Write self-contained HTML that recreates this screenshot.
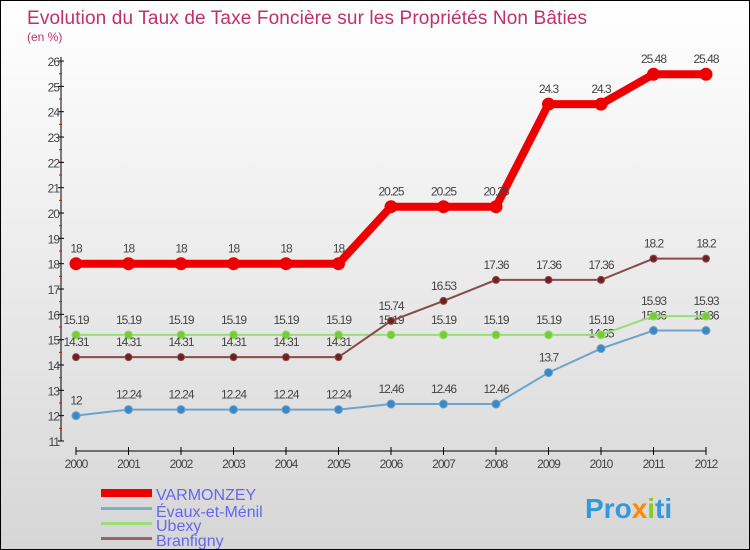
<!DOCTYPE html>
<html><head><meta charset="utf-8"><style>
body{margin:0}
#c{width:748px;height:548px;border:1px solid #000;background:linear-gradient(#fff,#d6d6d6);position:relative;overflow:hidden;font-family:"Liberation Sans",sans-serif}
</style></head><body>
<div id="c">
<svg id="s" width="748" height="548" xmlns="http://www.w3.org/2000/svg">
<text x="26" y="23" font-size="19" fill="#c0306a" textLength="560">Evolution du Taux de Taxe Foncière sur les Propriétés Non Bâties</text>
<text x="26" y="40" font-size="12" fill="#c0306a">(en %)</text>
<g id="axes"></g><g id="series"></g>
<g>
<rect x="100" y="488" width="51" height="8" fill="#e00"/>
<text x="155" y="499" font-size="16" fill="#6666ee">VARMONZEY</text>
<rect x="100" y="506" width="51" height="3" fill="#7aaccc"/>
<text x="155" y="516" font-size="16" fill="#6666ee">Évaux-et-Ménil</text>
<rect x="100" y="521" width="51" height="3" fill="#99dd77"/>
<text x="155" y="530" font-size="16" fill="#6666ee">Ubexy</text>
<rect x="100" y="536" width="51" height="3" fill="#996666"/>
<text x="155" y="545" font-size="16" fill="#6666ee">Branfigny</text>
</g>
<text x="584" y="517" font-size="28" font-weight="bold"><tspan fill="#3399dd">Pro</tspan><tspan fill="#ff8800">x</tspan><tspan fill="#88cc22">i</tspan><tspan fill="#3399dd">ti</tspan></text>
</svg></div>
<script>
const years=[2000,2001,2002,2003,2004,2005,2006,2007,2008,2009,2010,2011,2012];
const varmonzey=[18,18,18,18,18,18,20.25,20.25,20.25,24.3,24.3,25.48,25.48];
const evaux=[12,12.24,12.24,12.24,12.24,12.24,12.46,12.46,12.46,13.7,14.65,15.36,15.36];
const ubexy=[15.19,15.19,15.19,15.19,15.19,15.19,15.19,15.19,15.19,15.19,15.19,15.93,15.93];
const branfigny=[14.31,14.31,14.31,14.31,14.31,14.31,15.74,16.53,17.36,17.36,17.36,18.2,18.2];
const yTicks=[11,12,13,14,15,16,17,18,19,20,21,22,23,24,25,26];
const NS="http://www.w3.org/2000/svg";
const xs=i=>75+i*52.5, ys=v=>440-(v-11)*25.33;
function mk(t,a,p){const e=document.createElementNS(NS,t);for(const k in a)e.setAttribute(k,a[k]);p.appendChild(e);return e;}
const ax=document.getElementById('axes'), sg=document.getElementById('series');
let e=mk('line',{x1:60,y1:56,x2:60,y2:440,stroke:'#000'},ax);

e=mk('line',{x1:75,y1:450,x2:705,y2:450,stroke:'#000'},ax);

yTicks.forEach((v,i)=>{
 mk('line',{x1:57,x2:63,y1:ys(v),y2:ys(v),stroke:'#000'},ax);
 if(i<yTicks.length-1)mk('line',{x1:58,x2:61,y1:ys(v+0.5),y2:ys(v+0.5),stroke:'#e00'},ax);
 const t=mk('text',{x:58,y:ys(v)+5,'font-size':12,fill:'#444','text-anchor':'end','letter-spacing':'-1'},ax);t.textContent=v;
 
});
years.forEach((y,i)=>{
 mk('line',{x1:xs(i),x2:xs(i),y1:446,y2:454,stroke:'#000'},ax);
 const t=mk('text',{x:xs(i),y:467,'font-size':12,fill:'#444','text-anchor':'middle','letter-spacing':'-1'},ax);t.textContent=y;
 
});
function series(d,col,w,r,name,dot){
 const l=mk('polyline',{points:d.map((v,i)=>xs(i)+','+ys(v)).join(' '),fill:'none',stroke:col,'stroke-width':w},sg);
 
 d.forEach((v,i)=>{
  const c=mk('circle',{cx:xs(i),cy:ys(v),r:r,fill:dot,stroke:col,'stroke-width':1},sg);
  
  const t=mk('text',{x:xs(i),y:ys(v)-11,'font-size':12,fill:'#444','text-anchor':'middle','letter-spacing':'-1'},sg);t.textContent=v;
  
 });
}
series(evaux,'#6fa3cc',2,4,'evaux','#3a88c4');
series(ubexy,'#99dd77',2,4,'ubexy','#77cc33');
series(branfigny,'#8a4a4a',2,3.5,'branfigny','#702020');
series(varmonzey,'#ee0000',8,6,'varmonzey','#ee0000');
</script>
</body></html>
